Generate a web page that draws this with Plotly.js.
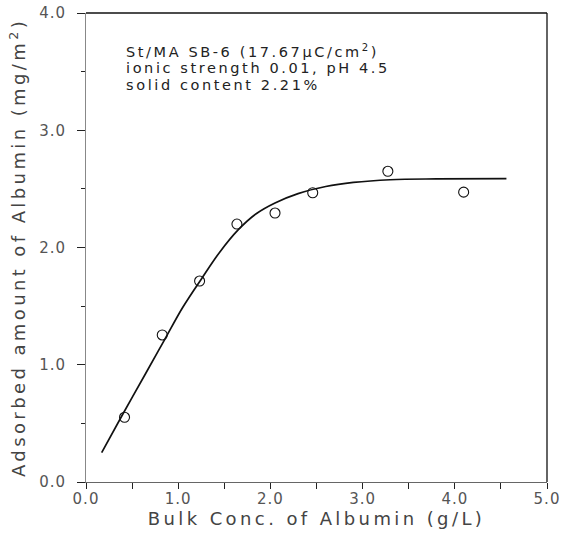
<!DOCTYPE html>
<html>
<head>
<meta charset="utf-8">
<script src="https://cdn.plot.ly/plotly-3.0.1.min.js"></script>
<style>
  html, body { margin: 0; padding: 0; background: #fff; }
  #chart { width: 569px; height: 535px; }
  /* wide, plotter-style lettering */
  .xtitle, .ytitle { letter-spacing: 3.4px; }
  .annotation-text { letter-spacing: 2.6px; }
  .xtick text, .ytick text { letter-spacing: 1px; }
</style>
</head>
<body>
<div id="chart"></div>
<script>
// Measured adsorption of albumin on St/MA latex SB-6
const bulkConc = [0.418, 0.827, 1.232, 1.637, 2.050, 2.459, 3.274, 4.096];      // g/L
const adsorbed = [0.552, 1.254, 1.714, 2.200, 2.294, 2.467, 2.650, 2.472];      // mg/m^2

// Smoothed isotherm curve
const curveConc = [0.17, 0.40, 0.65, 0.85, 1.05, 1.25, 1.45, 1.65, 1.85, 2.05, 2.30, 2.60, 2.90, 3.30, 3.80, 4.56];
const curveAds  = [0.25, 0.58, 0.93, 1.21, 1.49, 1.73, 1.96, 2.15, 2.29, 2.38, 2.46, 2.52, 2.555, 2.578, 2.585, 2.587];

// Condition labels
const infoLines = [
  'St/MA SB-6 (17.67\u03bcC/cm<sup>2</sup>)',
  'ionic strength 0.01, pH 4.5',
  'solid content 2.21%'
];

const font = 'DejaVu Sans, Liberation Sans, sans-serif';

const traces = [
  {
    x: curveConc, y: curveAds,
    mode: 'lines',
    line: { color: '#111', width: 1.7, shape: 'spline', smoothing: 1 },
    hoverinfo: 'skip',
    showlegend: false
  },
  {
    x: bulkConc, y: adsorbed,
    mode: 'markers',
    marker: { symbol: 'circle-open', size: 10, color: '#111', line: { width: 1.1, color: '#111' } },
    showlegend: false
  }
];

const infoY = [0.918, 0.882, 0.846];
const annotations = infoLines.map((t, i) => ({
  xref: 'paper', yref: 'paper',
  x: 0.083, y: infoY[i],
  xanchor: 'left', yanchor: 'middle',
  text: t, showarrow: false,
  font: { family: font, size: 14.5, color: '#222' }
}));

const layout = {
  width: 569, height: 535,
  margin: { l: 86, r: 22, t: 13, b: 53 },
  paper_bgcolor: '#fff', plot_bgcolor: '#fff',
  font: { family: font, color: '#333' },
  xaxis: {
    range: [0, 5], tick0: 0, dtick: 1, tickformat: '.1f',
    ticks: 'outside', ticklen: 6, tickwidth: 1, tickcolor: '#222',
    minor: { dtick: 0.5, ticks: 'outside', ticklen: 6, tickwidth: 1, tickcolor: '#222' },
    showline: true, linecolor: '#666', linewidth: 1,
    showgrid: false, zeroline: false,
    ticklabelstandoff: -3,
    tickfont: { family: font, size: 15, color: '#555' },
    title: { text: 'Bulk Conc. of Albumin (g/L)', font: { family: font, size: 18, color: '#444' }, standoff: 4 }
  },
  yaxis: {
    range: [0, 4], tick0: 0, dtick: 1, tickformat: '.1f',
    ticks: 'outside', ticklen: 8, tickwidth: 1, tickcolor: '#222',
    minor: { dtick: 0.5, ticks: 'outside', ticklen: 4, tickwidth: 1, tickcolor: '#222' },
    showline: true, linecolor: '#888', linewidth: 1,
    showgrid: false, zeroline: false,
    ticklabelstandoff: 8,
    tickfont: { family: font, size: 15, color: '#555' },
    title: { text: 'Adsorbed amount of Albumin (mg/m<sup>2</sup>)', font: { family: font, size: 18, color: '#444' }, standoff: 8 }
  },
  shapes: [
    { type: 'line', xref: 'paper', yref: 'paper', x0: 0, x1: 1, y0: 1, y1: 1, line: { color: '#111', width: 1.3 } },
    { type: 'line', xref: 'paper', yref: 'paper', x0: 1, x1: 1, y0: 0, y1: 1, line: { color: '#111', width: 1.3 } }
  ],
  annotations: annotations
};

Plotly.newPlot('chart', traces, layout, { displayModeBar: false, staticPlot: true });
</script>
</body>
</html>
